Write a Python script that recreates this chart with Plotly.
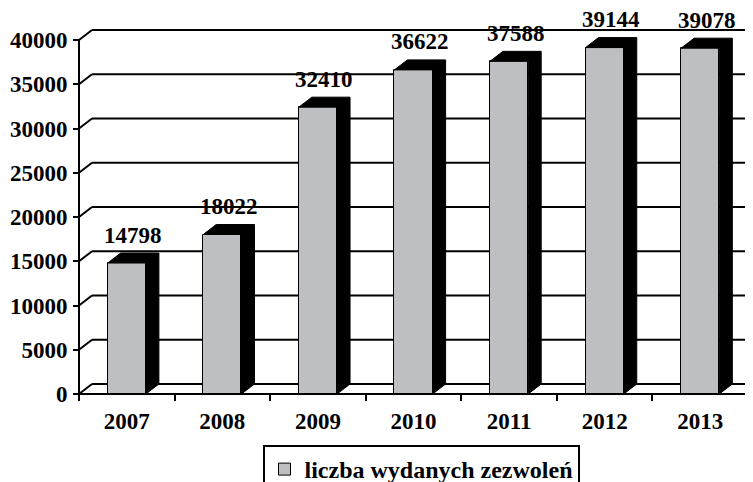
import plotly.graph_objects as go

# ---- data ----
years = ["2007", "2008", "2009", "2010", "2011", "2012", "2013"]
values = [14798, 18022, 32410, 36622, 37588, 39144, 39078]
y_ticks = [0, 5000, 10000, 15000, 20000, 25000, 30000, 35000, 40000]
series_name = "liczba wydanych zezwoleń"

# ---- geometry (pixel based, converted through axis scales) ----
# page body has an 8px default margin, so figure pixels = reference pixels - OFF
OFF = 8
W, H = 753, 482
ML, MR, MT, MB = 70 - OFF, 0, 0, 80
plot_w = W - ML - MR
plot_h = H - MT - MB
px_x = 669 / 7.0          # pixels per category
px_y = 354 / 40000.0      # pixels per unit value
front_left_px = (79 - OFF) - ML
floor_px = (394 - OFF) - MT
x0 = -0.5 - front_left_px / px_x
x1 = x0 + plot_w / px_x
y0 = -(plot_h - floor_px) / px_y
y1 = y0 + plot_h / px_y

dx = 13 / px_x            # depth offset in category units
dy = 10 / px_y            # depth offset in value units
bw = 0.4

FONT = "Liberation Serif"
GRAY = "#BEBFC3"

xs = list(range(len(years)))
n = len(years)

fig = go.Figure()
fig.add_trace(go.Bar(
    x=xs, y=values, width=bw, name=series_name,
    marker=dict(color=GRAY, line=dict(color="black", width=1)),
    showlegend=True,
))

# side + top faces (black) computed from values
px_list, py_list = [], []
for c, v in zip(xs, values):
    l, r = c - bw / 2, c + bw / 2
    px_list += [l, r, r, r + dx, r + dx, l + dx, l, None]
    py_list += [v, v, 0, dy, v + dy, v + dy, v, None]
fig.add_trace(go.Scatter(
    x=px_list, y=py_list, mode="lines", fill="toself",
    fillcolor="black", line=dict(color="black", width=1),
    showlegend=False, hoverinfo="skip",
))

shapes = []
# back wall gridlines + left diagonals
for v in y_ticks:
    shapes.append(dict(type="line", xref="x", yref="y", layer="below",
                       x0=-0.5 + dx, y0=v + dy, x1=x1, y1=v + dy,
                       line=dict(color="black", width=2)))
    shapes.append(dict(type="line", xref="x", yref="y", layer="below",
                       x0=-0.5, y0=v, x1=-0.5 + dx, y1=v + dy,
                       line=dict(color="black", width=2)))
# right floor diagonal
shapes.append(dict(type="line", xref="x", yref="y", layer="below",
                   x0=n - 0.5, y0=0, x1=n - 0.5 + dx, y1=dy,
                   line=dict(color="black", width=2)))
# front axis lines
shapes.append(dict(type="line", xref="x", yref="y", layer="above",
                   x0=-0.5, y0=0, x1=n - 0.5, y1=0,
                   line=dict(color="black", width=2)))
shapes.append(dict(type="line", xref="x", yref="y", layer="above",
                   x0=-0.5, y0=0, x1=-0.5, y1=y_ticks[-1],
                   line=dict(color="black", width=2)))

annotations = []
for c, v in zip(xs, values):
    annotations.append(dict(
        x=c + dx / 2, y=v, xref="x", yref="y", text=str(v),
        showarrow=False, yshift=28, yanchor="middle",
        font=dict(family=FONT, size=23, color="black", weight="bold"),
    ))

fig.update_layout(
    width=W, height=H, autosize=False,
    font=dict(family=FONT, size=23, color="black", weight="bold"),
    margin=dict(l=ML, r=MR, t=MT, b=MB, pad=0, autoexpand=False),
    paper_bgcolor="white", plot_bgcolor="white",
    shapes=shapes, annotations=annotations,
    bargap=0,
    showlegend=True,
    legend=dict(
        x=((421 - OFF) - ML) / plot_w, xanchor="center",
        y=-((445 - OFF) - (MT + plot_h)) / plot_h,
        yanchor="top",
        orientation="h",
        bordercolor="black", borderwidth=2, bgcolor="white",
        font=dict(family=FONT, size=24, color="black", weight="bold"),
    ),
    xaxis=dict(
        range=[x0, x1], anchor="free",
        position=(plot_h - floor_px) / plot_h,
        tickmode="array", tickvals=xs, ticktext=years,
        ticks="", showgrid=False, zeroline=False, showline=False,
        ticklabelstandoff=11, automargin=False,
        tickfont=dict(family=FONT, size=23, color="black", weight="bold"),
        minor=dict(tickmode="array", tickvals=[i - 0.5 for i in range(n + 1)],
                   ticks="outside", ticklen=6, tickwidth=2, tickcolor="black",
                   showgrid=False),
        fixedrange=True,
    ),
    yaxis=dict(
        range=[y0, y1], anchor="free",
        position=front_left_px / plot_w,
        tickmode="array", tickvals=y_ticks, ticktext=[str(t) for t in y_ticks],
        ticks="outside", ticklen=6, tickwidth=2, tickcolor="black",
        ticklabelstandoff=1, automargin=False,
        showgrid=False, zeroline=False, showline=False,
        tickfont=dict(family=FONT, size=23, color="black", weight="bold"),
        fixedrange=True,
    ),
)

fig.write_html("out.html")
